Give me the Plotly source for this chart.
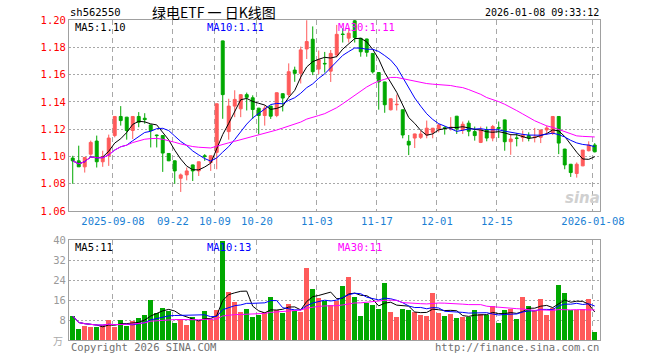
import plotly.graph_objects as go
import pandas as pd

dates = [
    "2025-08-28", "2025-08-29",
    "2025-09-01", "2025-09-02", "2025-09-03", "2025-09-04", "2025-09-05",
    "2025-09-08", "2025-09-09", "2025-09-10", "2025-09-11", "2025-09-12",
    "2025-09-15", "2025-09-16", "2025-09-17", "2025-09-18", "2025-09-19",
    "2025-09-22", "2025-09-23", "2025-09-24", "2025-09-25", "2025-09-26",
    "2025-09-29", "2025-09-30",
    "2025-10-09", "2025-10-10",
    "2025-10-13", "2025-10-14", "2025-10-15", "2025-10-16", "2025-10-17",
    "2025-10-20", "2025-10-21", "2025-10-22", "2025-10-23", "2025-10-24",
    "2025-10-27", "2025-10-28", "2025-10-29", "2025-10-30", "2025-10-31",
    "2025-11-03", "2025-11-04", "2025-11-05", "2025-11-06", "2025-11-07",
    "2025-11-10", "2025-11-11", "2025-11-12", "2025-11-13", "2025-11-14",
    "2025-11-17", "2025-11-18", "2025-11-19", "2025-11-20", "2025-11-21",
    "2025-11-24", "2025-11-25", "2025-11-26", "2025-11-27", "2025-11-28",
    "2025-12-01", "2025-12-02", "2025-12-03", "2025-12-04", "2025-12-05",
    "2025-12-08", "2025-12-09", "2025-12-10", "2025-12-11", "2025-12-12",
    "2025-12-15", "2025-12-16", "2025-12-17", "2025-12-18", "2025-12-19",
    "2025-12-22", "2025-12-23", "2025-12-24", "2025-12-25", "2025-12-26",
    "2025-12-29", "2025-12-30", "2025-12-31",
    "2026-01-05", "2026-01-06", "2026-01-07", "2026-01-08",
]

opens = [
    1.0988, 1.0968, 1.0924, 1.1017, 1.1113, 1.0961, 1.1005, 1.1153, 1.1293, 1.1288,
    1.1190, 1.1293, 1.1280, 1.1231, 1.1157, 1.1153, 1.1022, 1.0968, 1.0840, 1.0865,
    1.0938, 1.0894, 1.1005, 1.0956, 1.1030, 1.1847, 1.1182, 1.1369, 1.1349, 1.1453,
    1.1430, 1.1354, 1.1300, 1.1369, 1.1300, 1.1460, 1.1453, 1.1633, 1.1609, 1.1788,
    1.1859, 1.1640, 1.1682, 1.1625, 1.1743, 1.1897, 1.1867, 1.1994, 1.1866, 1.1861,
    1.1755, 1.1615, 1.1546, 1.1342, 1.1379, 1.1342, 1.1111, 1.1135, 1.1140, 1.1157,
    1.1177, 1.1202, 1.1210, 1.1204, 1.1295, 1.1194, 1.1244, 1.1182, 1.1103, 1.1194,
    1.1135, 1.1212, 1.1268, 1.1108, 1.1135, 1.1140, 1.1153, 1.1138, 1.1140, 1.1194,
    1.1170, 1.1293, 1.1054, 1.0943, 1.0875, 1.0931, 1.1042, 1.1084,
]
highs = [
    1.1005, 1.1079, 1.0995, 1.1116, 1.1153, 1.1042, 1.1160, 1.1293, 1.1369, 1.1290,
    1.1295, 1.1325, 1.1317, 1.1233, 1.1160, 1.1155, 1.1024, 1.0970, 1.0875, 1.0919,
    1.0940, 1.0963, 1.1017, 1.1007, 1.1388, 1.1849, 1.1423, 1.1485, 1.1455, 1.1468,
    1.1448, 1.1356, 1.1374, 1.1371, 1.1469, 1.1462, 1.1682, 1.1658, 1.1805, 1.1998,
    1.1953, 1.1776, 1.1766, 1.1780, 1.1964, 1.1940, 1.1940, 1.2000, 1.1868, 1.1863,
    1.1757, 1.1617, 1.1548, 1.1423, 1.1453, 1.1344, 1.1157, 1.1167, 1.1190, 1.1263,
    1.1209, 1.1239, 1.1221, 1.1288, 1.1297, 1.1256, 1.1263, 1.1219, 1.1219, 1.1219,
    1.1231, 1.1256, 1.1270, 1.1165, 1.1170, 1.1190, 1.1177, 1.1209, 1.1196, 1.1226,
    1.1295, 1.1295, 1.1056, 1.0945, 1.0956, 1.1047, 1.1111, 1.1098,
]
lows = [
    1.0800, 1.0924, 1.0882, 1.1005, 1.0919, 1.0924, 1.0931, 1.1140, 1.1226, 1.1123,
    1.1128, 1.1214, 1.1240, 1.1066, 1.1066, 1.0887, 1.0966, 1.0800, 1.0740, 1.0825,
    1.0820, 1.0857, 1.0968, 1.0894, 1.0906, 1.1276, 1.1123, 1.1288, 1.1288, 1.1337,
    1.1276, 1.1162, 1.1226, 1.1275, 1.1288, 1.1330, 1.1436, 1.1547, 1.1535, 1.1714,
    1.1596, 1.1603, 1.1615, 1.1546, 1.1726, 1.1835, 1.1835, 1.1835, 1.1731, 1.1731,
    1.1608, 1.1343, 1.1320, 1.1337, 1.1337, 1.1133, 1.1010, 1.1062, 1.1128, 1.1133,
    1.1133, 1.1177, 1.1160, 1.1190, 1.1165, 1.1165, 1.1148, 1.1116, 1.1098, 1.1111,
    1.1111, 1.1135, 1.1042, 1.1012, 1.1074, 1.1108, 1.1111, 1.1103, 1.1098, 1.1157,
    1.1157, 1.1017, 1.0906, 1.0850, 1.0845, 1.0929, 1.1037, 1.1030,
]
closes = [
    1.0968, 1.0924, 1.0993, 1.1103, 1.0961, 1.0998, 1.1135, 1.1293, 1.1263, 1.1190,
    1.1293, 1.1251, 1.1270, 1.1190, 1.1153, 1.1025, 1.0968, 1.0894, 1.0865, 1.0894,
    1.0894, 1.0961, 1.1000, 1.1005, 1.1386, 1.1453, 1.1369, 1.1418, 1.1453, 1.1433,
    1.1344, 1.1300, 1.1354, 1.1295, 1.1467, 1.1428, 1.1621, 1.1609, 1.1781, 1.1842,
    1.1621, 1.1709, 1.1679, 1.1755, 1.1895, 1.1894, 1.1903, 1.1871, 1.1767, 1.1763,
    1.1620, 1.1546, 1.1379, 1.1423, 1.1382, 1.1157, 1.1084, 1.1165, 1.1165, 1.1207,
    1.1207, 1.1231, 1.1207, 1.1214, 1.1202, 1.1236, 1.1185, 1.1153, 1.1194, 1.1135,
    1.1219, 1.1207, 1.1108, 1.1128, 1.1133, 1.1157, 1.1135, 1.1142, 1.1194, 1.1209,
    1.1293, 1.1098, 1.0938, 1.0882, 1.0943, 1.1047, 1.1084, 1.1034,
]
volumes = [
    9.6, 4.4, 5.6, 5.2, 5.2, 6.0, 8.0, 5.2, 8.0, 5.6,
    7.6, 8.8, 10.0, 16.0, 10.7, 12.8, 11.7, 6.8, 8.3, 6.0,
    9.3, 7.7, 11.6, 8.3, 12.0, 39.5, 19.3, 15.3, 11.3, 12.4,
    9.3, 10.0, 11.3, 17.3, 12.0, 10.9, 14.4, 11.6, 11.3, 28.9,
    20.4, 16.9, 15.6, 14.0, 15.6, 21.6, 25.3, 17.3, 9.6, 14.9,
    14.0, 12.4, 22.9, 11.3, 9.1, 12.4, 12.0, 11.2, 10.0, 9.6,
    18.9, 10.8, 9.6, 10.4, 8.8, 9.2, 9.2, 12.0, 10.4, 10.0,
    13.6, 6.8, 12.0, 12.4, 8.4, 17.2, 13.6, 12.0, 16.4, 10.0,
    12.8, 22.0, 18.8, 12.0, 12.0, 12.4, 16.4, 3.2,
]

tick_dates = ["2025-09-08", "2025-09-22", "2025-10-09", "2025-10-20", "2025-11-03",
              "2025-11-17", "2025-12-01", "2025-12-15", "2026-01-08"]
tick_text = ["2025-09-08", "09-22", "10-09", "10-20", "11-03",
             "11-17", "12-01", "12-15", "2026-01-08"]
price_ticks = [1.06, 1.08, 1.10, 1.12, 1.14, 1.16, 1.18, 1.20]
vol_ticks = [8, 16, 24, 32, 40]
price_ma_labels = ["MA5:1.10", "MA10:1.11", "MA30:1.11"]
vol_ma_labels = ["MA5:11", "MA10:13", "MA30:11"]

RED = "#ff5a5a"
GREEN = "#00a800"
MA_COLORS = ["#000000", "#0000ff", "#ff00ff"]
MONO = "DejaVu Sans Mono"

idx = list(range(len(dates)))
cs = pd.Series(closes)
vs = pd.Series(volumes)
windows = [5, 10, 30]

fig = go.Figure()

fig.add_trace(go.Candlestick(
    x=idx, open=opens, high=highs, low=lows, close=closes,
    increasing=dict(line=dict(color=RED, width=1), fillcolor=RED),
    decreasing=dict(line=dict(color=GREEN, width=1), fillcolor=GREEN),
    whiskerwidth=0, showlegend=False, hoverinfo="skip",
    xaxis="x", yaxis="y",
))
for w, col in zip(windows, MA_COLORS):
    fig.add_trace(go.Scatter(
        x=idx, y=cs.rolling(w, min_periods=1).mean(), mode="lines",
        line=dict(color=col, width=1), showlegend=False, hoverinfo="skip",
        xaxis="x", yaxis="y",
    ))

bar_colors = [RED if c >= o else GREEN for o, c in zip(opens, closes)]
fig.add_trace(go.Bar(
    x=idx, y=volumes, marker=dict(color=bar_colors, line=dict(width=0)),
    width=0.78, showlegend=False, hoverinfo="skip", xaxis="x2", yaxis="y2",
))
for w, col in zip(windows, MA_COLORS):
    fig.add_trace(go.Scatter(
        x=idx, y=vs.rolling(w, min_periods=1).mean(), mode="lines",
        line=dict(color=col, width=1), showlegend=False, hoverinfo="skip",
        xaxis="x2", yaxis="y2",
    ))

tickvals = [dates.index(d) - 0.3 for d in tick_dates]
xr = [-0.62, len(dates) - 0.12]
grid_x = dict(showgrid=True, gridcolor="#a8a8a8", griddash="5px,4px", gridwidth=1)
frame = dict(showline=True, linecolor="#a0a0a0", linewidth=1, mirror=True, zeroline=False)

fig.update_layout(
    width=660, height=360,
    margin=dict(l=69, r=60, t=20, b=20),
    paper_bgcolor="white", plot_bgcolor="white",
    bargap=0,
    xaxis=dict(domain=[0, 1], range=xr, anchor="y", tickmode="array",
               tickvals=tickvals, ticktext=tick_text, ticks="",
               tickfont=dict(family=MONO, size=10.5, color="#1a7fd4"),
               rangeslider=dict(visible=False), **grid_x, **frame),
    xaxis2=dict(domain=[0, 1], range=xr, anchor="y2", matches="x", tickmode="array",
                tickvals=tickvals, showticklabels=False, ticks="", **grid_x, **frame),
    yaxis=dict(domain=[0.403, 1], range=[1.06, 1.20], tickmode="array",
               tickvals=price_ticks, tickformat=".2f", ticks="",
               tickfont=dict(family=MONO, size=10.5, color="#ff0000"),
               showgrid=True, gridcolor="#a8a8a8", griddash="2px,2px", **frame),
    yaxis2=dict(domain=[0, 0.3125], range=[0, 40], tickmode="array",
                tickvals=vol_ticks, ticks="",
                tickfont=dict(family=MONO, size=10.5, color="#999999"),
                showgrid=True, gridcolor="#a8a8a8", griddash="2px,2px", **frame),
)

def px_x(X):
    return (X - 69) / 531.0

def px_y(Y):
    return (340 - Y) / 320.0

ann = []
ann.append(dict(text="sh562550", x=px_x(68), y=px_y(12), xanchor="left", yanchor="middle",
                font=dict(family=MONO, size=10.5, color="#000")))
ann.append(dict(text="绿电ETF 一 日K线图", x=px_x(150), y=px_y(12),
                xanchor="left", yanchor="middle",
                font=dict(family="Noto Sans CJK SC", size=14, color="#000")))
ann.append(dict(text="2026-01-08 09:33:12", x=px_x(601), y=px_y(12), xanchor="right", yanchor="middle",
                font=dict(family=MONO, size=10, color="#000")))
for lab, X, col in zip(price_ma_labels, [73, 205, 336], MA_COLORS):
    ann.append(dict(text=lab, x=px_x(X), y=px_y(27), xanchor="left", yanchor="middle",
                    font=dict(family=MONO, size=10.5, color=col)))
for lab, X, col in zip(vol_ma_labels, [73, 205, 336], MA_COLORS):
    ann.append(dict(text=lab, x=px_x(X), y=px_y(247), xanchor="left", yanchor="middle",
                    font=dict(family=MONO, size=10.5, color=col)))
ann.append(dict(text="万", x=px_x(58), y=px_y(340), xanchor="center", yanchor="middle",
                font=dict(family="Noto Sans CJK SC", size=10, color="#aaaaaa")))
ann.append(dict(text="Copyright 2026 SINA.COM", x=px_x(69), y=px_y(347), xanchor="left", yanchor="middle",
                font=dict(family=MONO, size=10.5, color="#707070")))
ann.append(dict(text="http://finance.sina.com.cn", x=px_x(601), y=px_y(347), xanchor="right", yanchor="middle",
                font=dict(family=MONO, size=10.5, color="#707070")))
ann.append(dict(text="<b><i>sina</i></b>", x=px_x(582), y=px_y(198), xanchor="center", yanchor="middle",
                font=dict(family="DejaVu Sans", size=15, color="#d0d0d0")))
for a in ann:
    a.update(xref="paper", yref="paper", showarrow=False)
fig.update_layout(annotations=ann)

fig.write_html("out.html", config={"displayModeBar": False},
               post_script="document.body.style.margin='0';document.body.style.padding='0';")
